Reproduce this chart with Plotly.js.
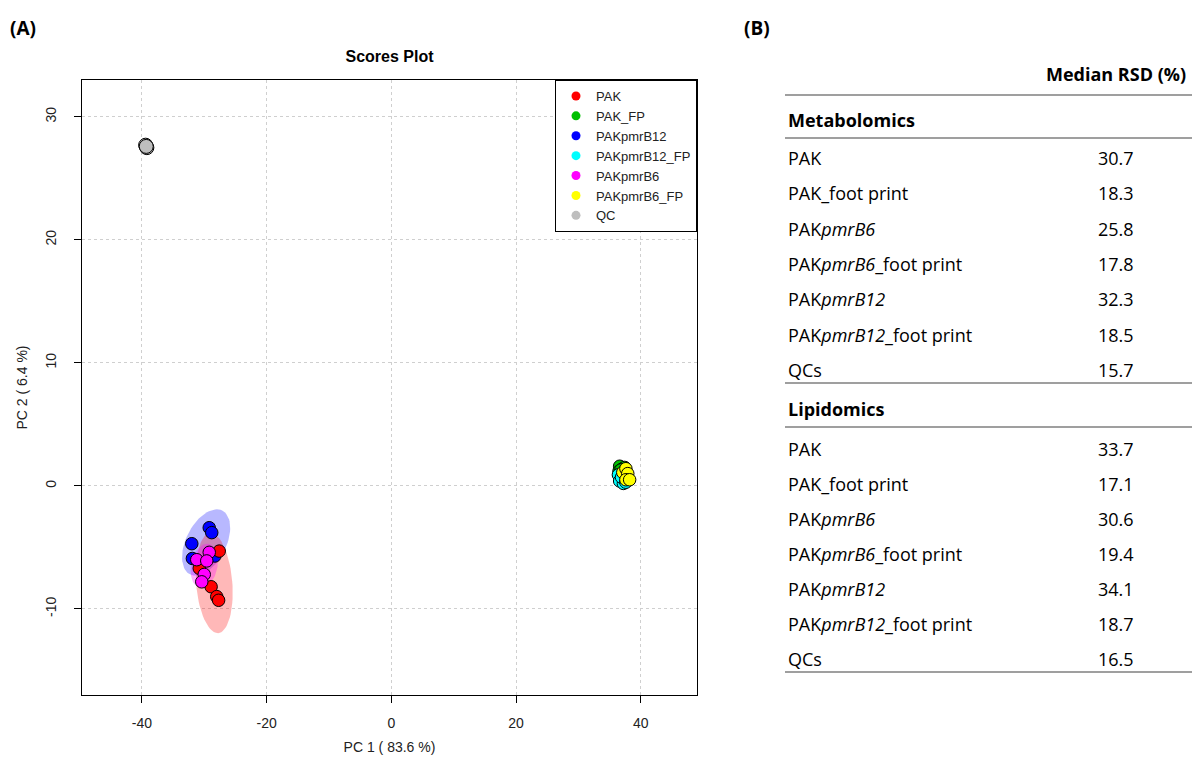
<!DOCTYPE html>
<html><head><meta charset="utf-8">
<script src="https://cdn.plot.ly/plotly-3.0.1.min.js"></script>
<style>html,body{margin:0;padding:0;background:#fff;} #chart{width:1192px;height:765px;}</style>
</head><body><div id="chart"></div>
<script>
// ---------- data ----------
const groups = ["PAK","PAK_FP","PAKpmrB12","PAKpmrB12_FP","PAKpmrB6","PAKpmrB6_FP","QC"];
const groupColors = ["#FF0000","#00C000","#0000FF","#00FFFF","#FF00FF","#FFFF00","#BEBEBE"];

const PAK_x = [-27.6, -30.8, -28.9, -28.0, -27.7];
const PAK_y = [-5.3, -6.7, -8.2, -9.0, -9.3];
const PAK_FP_x = [36.6, 37.1, 36.5, 37.4, 36.8];
const PAK_FP_y = [1.6, 1.4, 1.2, 1.5, 1.3];
const PAKpmrB12_x = [-29.2, -28.8, -32.0, -31.9, -28.3];
const PAKpmrB12_y = [-3.4, -3.8, -4.7, -5.9, -5.7];
const PAKpmrB12_FP_x = [36.4, 36.6, 37.2, 36.9, 37.6];
const PAKpmrB12_FP_y = [0.9, 0.4, 0.2, 0.7, 0.3];
const PAKpmrB6_x = [-29.2, -31.2, -29.6, -30.0, -30.4];
const PAKpmrB6_y = [-5.4, -6.0, -6.1, -7.2, -7.8];
const PAKpmrB6_FP_x = [37.1, 37.6, 37.9, 37.6, 38.2];
const PAKpmrB6_FP_y = [1.1, 1.4, 1.0, 0.5, 0.5];
const QC_x = [-39.4, -39.2, -39.3];
const QC_y = [27.7, 27.5, 27.6];

// confidence ellipses: centre and two conjugate semi-axis vectors (data units)
const ellipsePAKpmrB12 = [-29.7, -4.6, 2.57, 2.60, 2.88, -0.72];
const ellipsePAK = [-28.4, -7.9, 0.64, -4.07, 2.89, 0.11];
const ellipsePAKpmrB6 = [-30.0, -6.5, 0.64, 1.79, 2.09, -0.16];

const xTickVals = [-40, -20, 0, 20, 40];
const xTickText = ["-40", "-20", "0", "20", "40"];
const yTickVals = [-10, 0, 10, 20, 30];
const yTickText = ["-10", "0", "10", "20", "30"];

const tableRowLabels = ["PAK", "PAK_foot print", "PAK<i>pmrB6</i>", "PAK<i>pmrB6</i>_foot print",
  "PAK<i>pmrB12</i>", "PAK<i>pmrB12</i>_foot print", "QCs"];
const metabolomicsRSD = [30.7, 18.3, 25.8, 17.8, 32.3, 18.5, 15.7];
const lipidomicsRSD = [33.7, 17.1, 30.6, 19.4, 34.1, 18.7, 16.5];

// ---------- helpers ----------
function ellipsePts(p) {
  const xs = [], ys = [];
  for (let i = 0; i <= 72; i++) {
    const t = 2 * Math.PI * i / 72;
    xs.push(p[0] + p[2] * Math.cos(t) + p[4] * Math.sin(t));
    ys.push(p[1] + p[3] * Math.cos(t) + p[5] * Math.sin(t));
  }
  return {x: xs, y: ys};
}
function ellipseTrace(p, fill) {
  const e = ellipsePts(p);
  return {type: 'scatter', mode: 'lines', x: e.x, y: e.y, fill: 'toself', fillcolor: fill,
    line: {width: 0}, showlegend: false, hoverinfo: 'skip'};
}
function pts(x, y, color, size) {
  return {type: 'scatter', mode: 'markers', x: x, y: y, showlegend: false,
    marker: {size: size || 12.5, color: color, line: {color: '#000', width: 1}}};
}
const PL = 82, PR = 697, PT = 80, PB = 695;
const X = px => (px - PL) / (PR - PL);
const Y = py => (PB - py) / (PB - PT);

// ---------- traces ----------
const traces = [
  ellipseTrace(ellipsePAKpmrB12, 'rgba(0,0,255,0.28)'),
  ellipseTrace(ellipsePAK, 'rgba(255,0,0,0.28)'),
  ellipseTrace(ellipsePAKpmrB6, 'rgba(255,0,255,0.3)'),
  pts(PAK_FP_x, PAK_FP_y, groupColors[1]),
  pts(PAKpmrB12_FP_x, PAKpmrB12_FP_y, groupColors[3]),
  pts(PAKpmrB6_FP_x, PAKpmrB6_FP_y, groupColors[5]),
  pts(QC_x, QC_y, groupColors[6], 14),
  pts(PAKpmrB12_x, PAKpmrB12_y, groupColors[2]),
  pts(PAK_x, PAK_y, groupColors[0]),
  pts(PAKpmrB6_x, PAKpmrB6_y, groupColors[4])
];
groups.forEach((g, i) => {
  traces.push({type: 'scatter', mode: 'markers', x: [null], y: [null], name: g,
    marker: {size: 9, color: groupColors[i], line: {width: 0}}, showlegend: true});
});

// ---------- table (panel B) ----------
const tfont = {family: 'Open Sans, Liberation Sans, sans-serif', size: 18, color: '#000'};
const annotations = [
  {text: '<b>(A)</b>', x: X(8), y: Y(28), xanchor: 'left', yanchor: 'middle',
    font: {family: 'Open Sans, Liberation Sans, sans-serif', size: 19, color: '#000'}},
  {text: '<b>(B)</b>', x: X(742), y: Y(28), xanchor: 'left', yanchor: 'middle',
    font: {family: 'Open Sans, Liberation Sans, sans-serif', size: 19, color: '#000'}},
  {text: '<b>Median RSD (%)</b>', x: X(1188), y: Y(74), xanchor: 'right', yanchor: 'middle', font: tfont},
  {text: '<b>Metabolomics</b>', x: X(786), y: Y(120), xanchor: 'left', yanchor: 'middle', font: tfont},
  {text: '<b>Lipidomics</b>', x: X(786), y: Y(409), xanchor: 'left', yanchor: 'middle', font: tfont}
];
tableRowLabels.forEach((lab, i) => {
  const ym = 158 + i * 35.3, yl = 449 + i * 35.0;
  annotations.push({text: lab, x: X(786), y: Y(ym), xanchor: 'left', yanchor: 'middle', font: tfont});
  annotations.push({text: metabolomicsRSD[i].toFixed(1), x: X(1096), y: Y(ym), xanchor: 'left', yanchor: 'middle', font: tfont});
  annotations.push({text: lab, x: X(786), y: Y(yl), xanchor: 'left', yanchor: 'middle', font: tfont});
  annotations.push({text: lipidomicsRSD[i].toFixed(1), x: X(1096), y: Y(yl), xanchor: 'left', yanchor: 'middle', font: tfont});
});
annotations.forEach(a => { a.xref = 'paper'; a.yref = 'paper'; a.showarrow = false; });

const shapes = [95, 138, 383, 427, 672].map(py => ({
  type: 'line', xref: 'paper', yref: 'paper', x0: X(785), x1: X(1192), y0: Y(py), y1: Y(py),
  line: {color: '#7f7f7f', width: 1.5}
}));

const axisFont = {family: 'Liberation Sans Narrow, Liberation Sans, Arial, sans-serif', size: 14, color: '#222'};
const layout = {
  width: 1192, height: 765,
  margin: {l: PL, r: 1192 - PR, t: PT, b: 765 - PB},
  paper_bgcolor: '#fff', plot_bgcolor: '#fff',
  font: {family: 'Liberation Sans, Arial, sans-serif', color: '#000'},
  title: {text: '<b>Scores Plot</b>', xref: 'paper', x: 0.5, xanchor: 'center',
    yref: 'container', y: 1 - 56 / 765, yanchor: 'middle',
    font: {family: 'Liberation Sans, Arial, sans-serif', size: 16, color: '#000'}},
  xaxis: {range: [-49.6, 49.0], tickvals: xTickVals, ticktext: xTickText,
    ticks: 'outside', ticklen: 7, tickcolor: '#000', tickwidth: 1,
    showline: true, mirror: true, linecolor: '#000', linewidth: 1,
    showgrid: true, gridcolor: '#cfcfcf', griddash: 'dot', gridwidth: 1, zeroline: false,
    tickfont: axisFont, ticklabelstandoff: 8,
    title: {text: 'PC 1 ( 83.6 %)', font: {family: 'Liberation Sans Narrow, Liberation Sans, Arial, sans-serif', size: 14, color: '#222'}, standoff: 12}},
  yaxis: {range: [-17, 33], tickvals: yTickVals, ticktext: yTickText, tickangle: -90,
    ticks: 'outside', ticklen: 7, tickcolor: '#000', tickwidth: 1,
    showline: true, mirror: true, linecolor: '#000', linewidth: 1,
    showgrid: true, gridcolor: '#cfcfcf', griddash: 'dot', gridwidth: 1, zeroline: false,
    tickfont: axisFont, ticklabelstandoff: 12,
    title: {text: 'PC 2 ( 6.4 %)', font: {family: 'Liberation Sans Narrow, Liberation Sans, Arial, sans-serif', size: 14, color: '#222'}, standoff: 12}},
  legend: {x: 1, xanchor: 'right', y: 1, yanchor: 'top', bgcolor: '#fff',
    bordercolor: '#000', borderwidth: 1, tracegroupgap: 0, itemwidth: 30,
    font: {family: 'Liberation Sans, Arial, sans-serif', size: 13, color: '#222'}},
  showlegend: true,
  annotations: annotations,
  shapes: shapes
};
Plotly.newPlot('chart', traces, layout, {displayModeBar: false, staticPlot: true});
</script>
</body></html>
